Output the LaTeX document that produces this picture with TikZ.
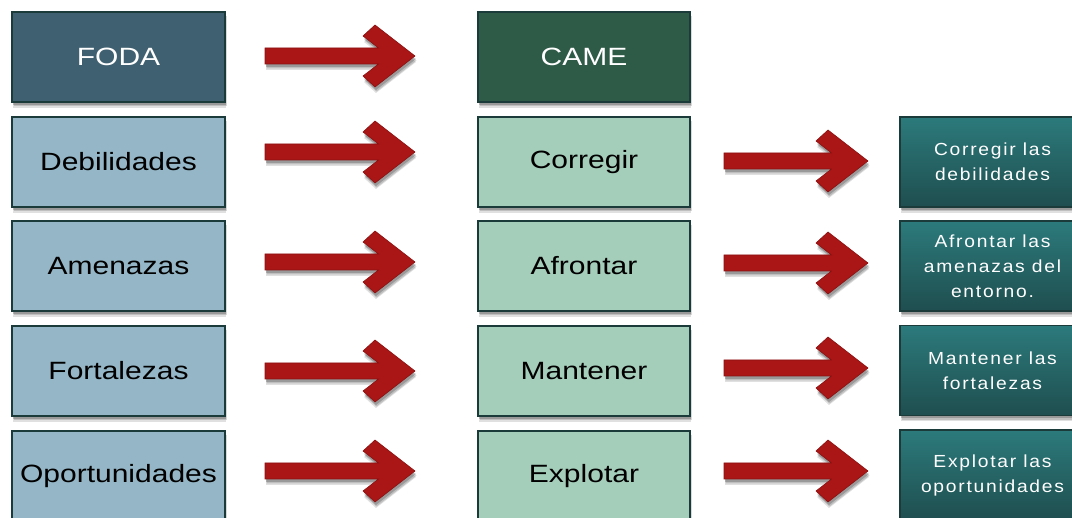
\documentclass[tikz,border=0pt]{standalone}
\usepackage{fontspec}
\setmainfont[FakeStretch=1.2]{Liberation Sans}
\newfontfamily\rfont[FakeStretch=1.1,LetterSpace=10]{Liberation Sans}
\usetikzlibrary{shadows}
\definecolor{fodafill}{HTML}{3F6070}
\definecolor{camefill}{HTML}{2E5A48}
\definecolor{lblue}{HTML}{94B6C6}
\definecolor{lgreen}{HTML}{A4CDBA}
\definecolor{edgec}{HTML}{1B3B3B}
\definecolor{tealtop}{HTML}{2C7A7C}
\definecolor{tealbot}{HTML}{1F4E4F}
\definecolor{arrowred}{HTML}{AA1616}
\definecolor{arrowedge}{HTML}{8A1010}
\tikzset{
  shd/.style={
    drop shadow={shadow xshift=1pt, shadow yshift=-6pt, opacity=0.12, fill=black},
    drop shadow={shadow xshift=1.5pt, shadow yshift=-4.5pt, opacity=0.15, fill=black},
    drop shadow={shadow xshift=1pt, shadow yshift=-3pt, opacity=0.2, fill=black}},
  box/.style={draw=edgec, line width=1.4pt, minimum height=90pt, inner sep=0pt, shd,
              font=\fontsize{25}{30}\selectfont},
  lbox/.style={box, minimum width=213pt},
  mbox/.style={box, minimum width=212pt},
  rbox/.style={draw=edgec, line width=1.4pt, minimum height=90pt, minimum width=185pt, inner sep=0pt, shd,
               top color=tealtop, bottom color=tealbot, text=white, align=center,
               font=\rfont\fontsize{17.5}{25}\selectfont},
  pics/chev/.style={code={
    \filldraw[fill=arrowred, draw=arrowedge, line width=0.6pt, shd]
      (0,-8) -- (#1-36.5,-8) -- (#1-52,-20) -- (#1-40,-31) -- (#1,0)
      -- (#1-40,31) -- (#1-52,20) -- (#1-36.5,8) -- (0,8) -- cycle;
  }}
}
\begin{document}
\begin{tikzpicture}[x=1pt,y=-1pt]
\useasboundingbox (0,0) rectangle (1072,518);
\clip (0,0) rectangle (1072,518);
% left column
\node[lbox, fill=fodafill, text=white] (foda) at (118.5,57) {FODA};
\node[lbox, fill=lblue] (deb) at (118.5,162) {Debilidades};
\node[lbox, fill=lblue] (ame) at (118.5,266) {Amenazas};
\node[lbox, fill=lblue] (fort) at (118.5,371) {Fortalezas};
\node[lbox, fill=lblue] (opo) at (118.5,476) {Oportunidades};
% middle column
\node[mbox, fill=camefill, text=white] (came) at (584,57) {CAME};
\node[mbox, fill=lgreen] (corr) at (584,162) {Corregir};
\node[mbox, fill=lgreen] (afr) at (584,266) {Afrontar};
\node[mbox, fill=lgreen] (mant) at (584,371) {Mantener};
\node[mbox, fill=lgreen] (expl) at (584,476) {Explotar};
% right column
\node[rbox] (rcorr) at (992.5,162) {Corregir las\\debilidades};
\node[rbox] (rafr) at (992.5,266) {Afrontar las\\amenazas del\\entorno.};
\node[rbox] (rmant) at (992.5,370.5) {Mantener las\\fortalezas};
\node[rbox] (rexpl) at (992.5,475) {Explotar las\\oportunidades};
% arrows left -> middle
\pic at (265,56) {chev=150};
\pic at (265,152) {chev=150};
\pic at (265,262) {chev=150};
\pic at (265,371) {chev=150};
\pic at (265,471) {chev=150};
% arrows middle -> right
\pic at (724,161) {chev=144};
\pic at (724,263) {chev=144};
\pic at (724,368) {chev=144};
\pic at (724,471) {chev=144};
\end{tikzpicture}
\end{document}
